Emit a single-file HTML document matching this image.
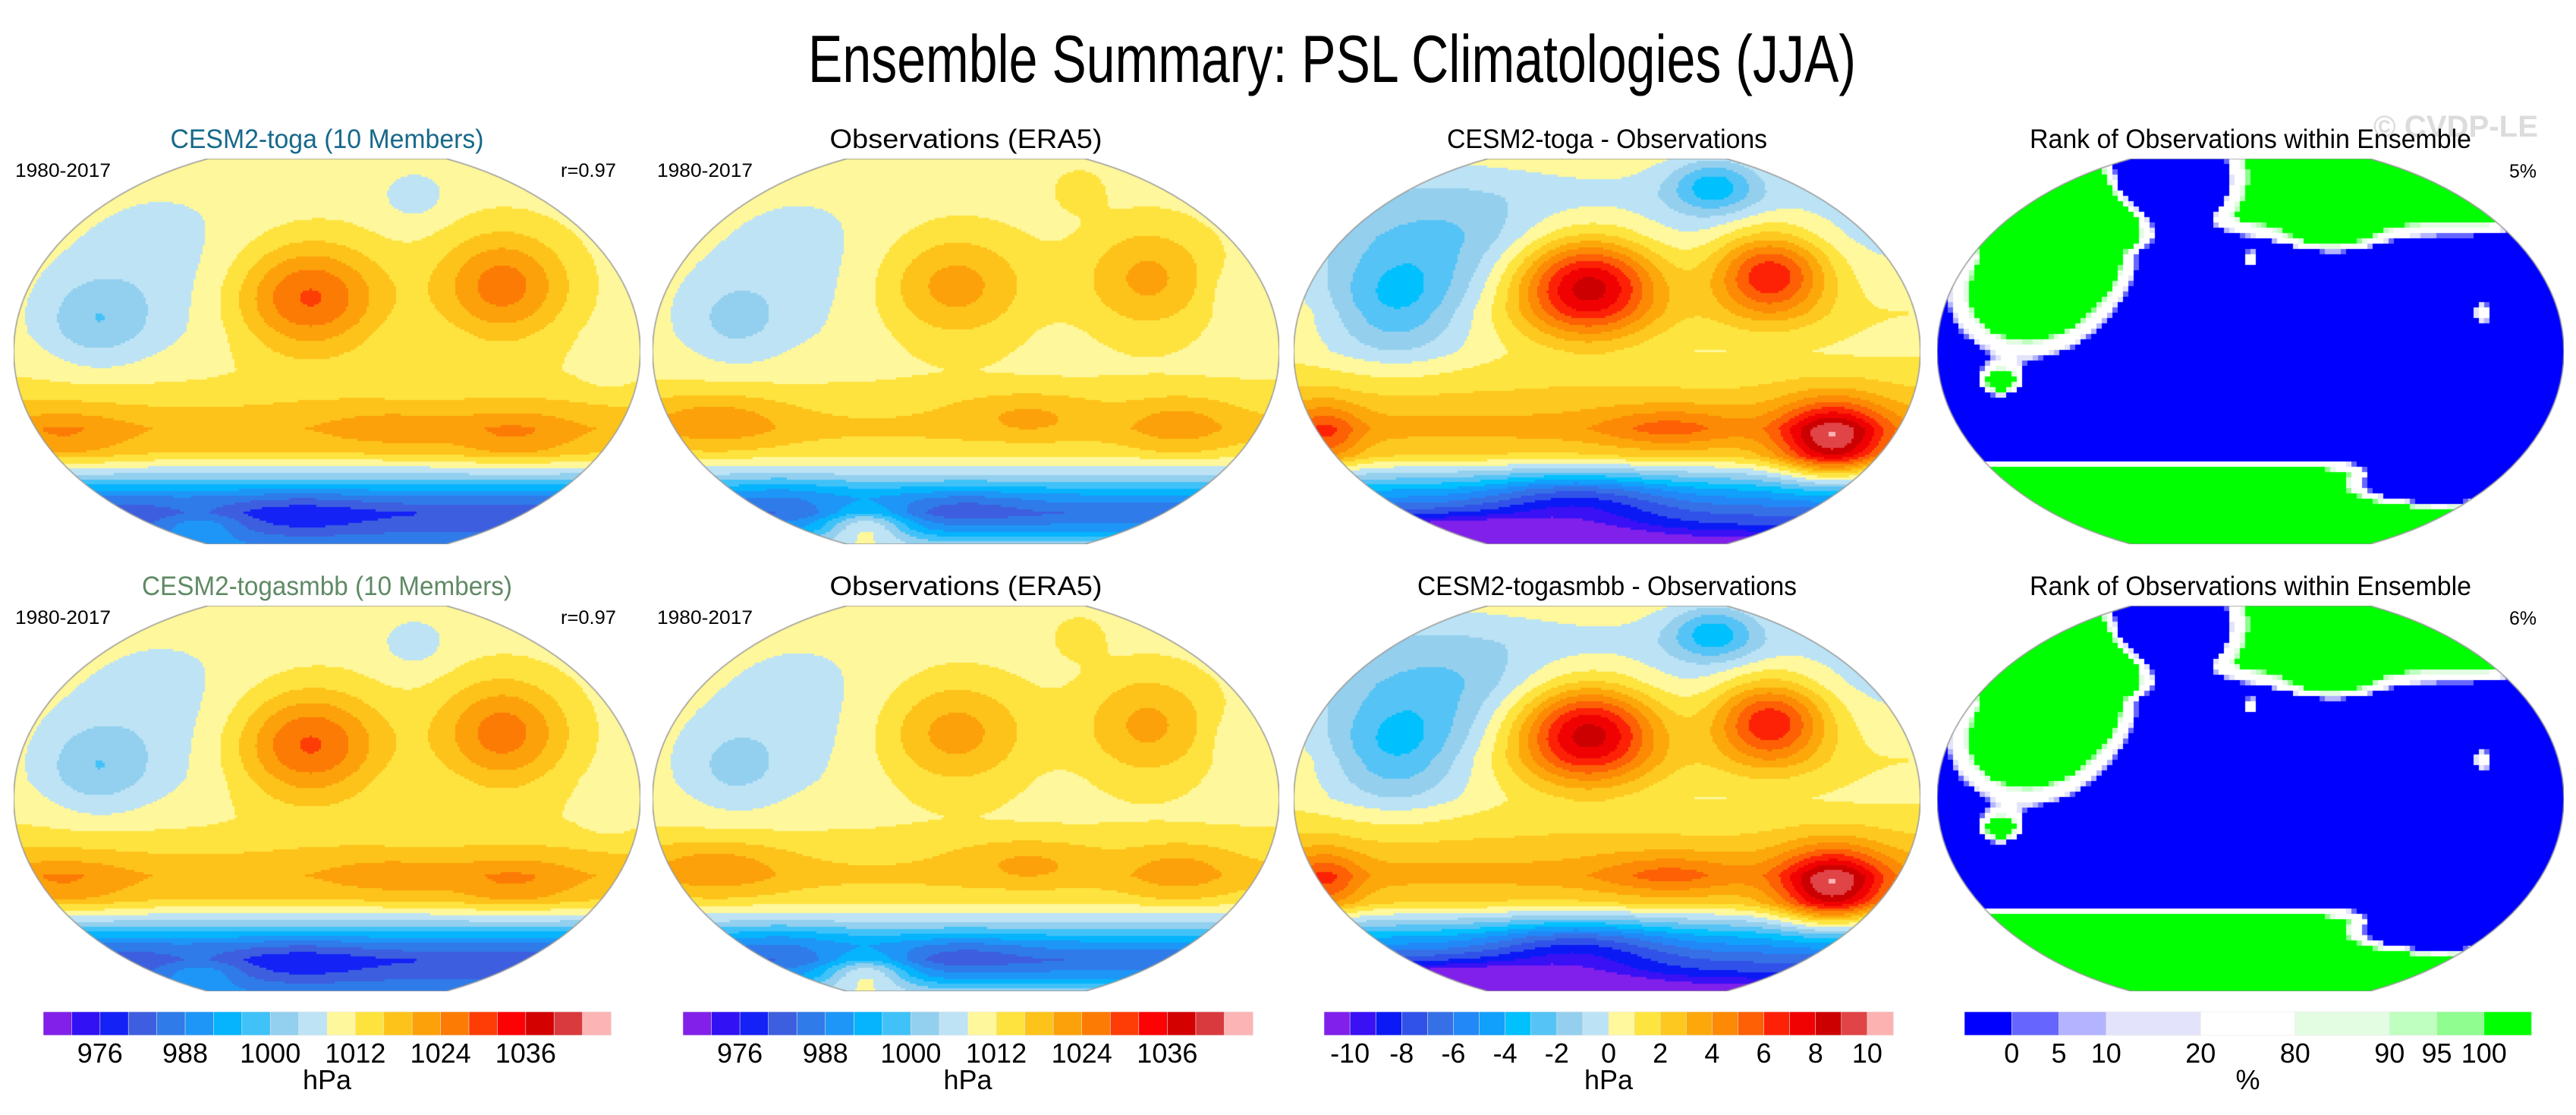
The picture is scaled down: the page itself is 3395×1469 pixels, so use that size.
<!DOCTYPE html>
<html><head><meta charset="utf-8">
<style>
html,body{margin:0;padding:0;background:#fff;}
#wrap{position:relative;width:3395px;height:1469px;overflow:hidden;background:#fff;}
canvas{position:absolute;}
svg{position:absolute;left:0;top:0;}
text{font-family:"Liberation Sans",sans-serif;}
</style></head>
<body>
<div id="wrap">
<svg id="ov" width="3395" height="1469"></svg>
</div>
<script>
// ---- colour scales ----
const pslColors = ["#8220ea","#3311f5","#1522f5","#3d5fdf","#2f7be9","#1e96f7","#05b4fc","#40c2f8","#93cfee","#bde3f5","#fff79b","#fee33f","#fdc31a","#fca10a","#fc7b05","#fd3d05","#fc0205","#d30201","#d93a3e","#fdb4b4"];
const pslBounds = [972,976,980,984,988,992,996,1000,1004,1008,1012,1016,1020,1024,1028,1032,1036,1040,1044];
const pslTicks = ["976","988","1000","1012","1024","1036"];
const pslTickIdx = [2,5,8,11,14,17];
const diffColors = ["#8020ea","#3a10f5","#0b1af5","#3152e8","#3670e6","#2288f8","#11a0fb","#00c0fd","#55c3f5","#95cfee","#bbe3f5","#fff89c","#fee43f","#fdc81f","#fca80a","#fc8a05","#fd6005","#fd2205","#f00203","#cc0000","#e04446","#fdb2b2"];
const diffBounds = [-10,-9,-8,-7,-6,-5,-4,-3,-2,-1,0,1,2,3,4,5,6,7,8,9,10];
const diffTicks = ["-10","-8","-6","-4","-2","0","2","4","6","8","10"];
const diffTickIdx = [1,3,5,7,9,11,13,15,17,19,21];
const rankColors = ["#0000ff","#6666ff","#b3b3ff","#e3e3fb","#ffffff","#e3fde3","#bfffbf","#8ffd8f","#00ff00"];
const rankBounds = [0,5,10,20,80,90,95,100];
const rankTicks = ["0","5","10","20","80","90","95","100"];
const rankWidths = [1,1,1,2,2,2,1,1,1];

// ---- field data (lat profile: v=0 top .. 1 bottom; blobs: u,v,su,sv,amp) ----
const modelProfV = [0,0.15,0.3,0.45,0.55,0.62,0.7,0.76,0.79,0.82,0.85,0.88,0.92,0.96,1.0];
const modelProfP = [1010,1010,1010,1010,1011.5,1015,1019,1016,1010,1003,995,987,980,983,988];
const modelBlobs = [[0.47,0.36,0.085,0.1,19],[0.78,0.33,0.075,0.1,16],[0.13,0.42,0.06,0.08,-8],[0.24,0.3,0.12,0.16,-4],[0.08,0.72,0.08,0.05,6],[0.6,0.7,0.08,0.04,4],[0.8,0.72,0.07,0.05,6],[0.64,0.1,0.04,0.05,-4],[0.3,0.95,0.05,0.03,8],[0.46,0.92,0.08,0.04,-4],[0.95,0.55,0.03,0.04,-3]];
const obsProfP = [1010,1010,1010,1010,1011,1014,1017,1014,1009,1004,997,990,984,990,1002];
const obsBlobs = [[0.48,0.33,0.085,0.1,12],[0.79,0.31,0.075,0.1,11],[0.13,0.42,0.06,0.08,-6],[0.24,0.28,0.12,0.15,-3.5],[0.1,0.68,0.08,0.05,7],[0.6,0.66,0.08,0.04,5],[0.84,0.69,0.06,0.05,6],[0.68,0.08,0.03,0.04,4],[0.34,0.95,0.05,0.035,18],[0.2,0.86,0.06,0.03,-3],[0.5,0.9,0.07,0.03,-4],[0.93,0.35,0.03,0.05,-3]];
const diffProfV = [0,0.1,0.2,0.4,0.5,0.6,0.7,0.77,0.8,0.83,0.86,0.9,0.95,1.0];
const diffProfP = [0.5,-0.5,-0.5,1,0.8,2,3.5,2,0,-2,-4,-6,-8,-11];
const diffBlobs = [[0.47,0.33,0.08,0.09,8],[0.76,0.3,0.065,0.08,6.5],[0.86,0.73,0.06,0.07,7],[0.16,0.38,0.08,0.1,-3.5],[0.24,0.22,0.1,0.12,-1.5],[0.67,0.07,0.05,0.05,-3.5],[0.45,0.88,0.1,0.05,-3],[0.28,0.99,0.15,0.04,-5],[0.05,0.72,0.04,0.06,3],[0.6,0.7,0.08,0.04,2]];
const rankProfV = [0,0.15,0.2,0.25,0.74,0.765,0.79,0.82,1.0];
const rankProfP = [150,150,0,-200,-200,-200,50,200,200];
const rankBlobs = [[0.14,0.36,0.1,0.13,420],[0.22,0.22,0.08,0.1,350],[0.37,0.05,0.055,0.08,-700],[0.1,0.58,0.025,0.03,300],[0.87,0.4,0.02,0.04,250],[0.5,0.26,0.015,0.02,250],[0.8,0.84,0.08,0.035,-600],[0.93,0.8,0.05,0.03,-400],[0.63,0.22,0.06,0.04,200],[0.95,0.25,0.03,0.05,-200]];

const mapXs = [18,860,1705,2553];
const mapW = 826, mapH = 508;
const rowY = [209,798];

function profile(V,P,v){
  if(v<=V[0]) return P[0];
  for(let k=1;k<V.length;k++){ if(v<=V[k]){ const t=(v-V[k-1])/(V[k]-V[k-1]); return P[k-1]+t*(P[k]-P[k-1]); } }
  return P[P.length-1];
}
function field(V,P,B,u,v){
  let s=profile(V,P,v);
  for(const b of B){ const du=(u-b[0])/b[2], dv=(v-b[1])/b[3]; s+=b[4]*Math.exp(-0.5*(du*du+dv*dv)); }
  return s;
}
function colorFor(val,bounds,colors){
  let i=0; while(i<bounds.length && val>=bounds[i]) i++;
  return colors[i];
}
function mapPath(ctx,W,H){
  const a=W/2, b=0.5405*H, x1=W/2-0.19*W, x2=W/2+0.19*W;
  ctx.beginPath();
  ctx.moveTo(x1,0); ctx.lineTo(x2,0);
  ctx.ellipse(W/2,H/2,a,b,0,-Math.asin(H/2/b),Math.asin(H/2/b),false);
  ctx.lineTo(x1,H);
  ctx.ellipse(W/2,H/2,a,b,0,Math.PI-Math.asin(H/2/b),Math.PI+Math.asin(H/2/b),false);
  ctx.closePath();
}
const wrap=document.getElementById('wrap');
function drawMap(x,y,V,P,B,bounds,colors,cell,name){
  const c=document.createElement('canvas');
  
  
  c.width=mapW; c.height=mapH; c.style.left=x+'px'; c.style.top=y+'px';
  wrap.insertBefore(c,document.getElementById('ov'));
  const ctx=c.getContext('2d');
  ctx.save(); mapPath(ctx,mapW,mapH); ctx.clip();
  for(let j=0;j<mapH;j+=cell){ for(let i=0;i<mapW;i+=cell){
    const u=(i+cell/2)/mapW, v=(j+cell/2)/mapH;
    ctx.fillStyle=colorFor(field(V,P,B,u,v),bounds,colors);
    ctx.fillRect(i,j,cell+0.5,cell+0.5);
  }}
  ctx.restore();
  mapPath(ctx,mapW,mapH); ctx.strokeStyle='#999'; ctx.lineWidth=1.5; ctx.stroke();
}
for(let r=0;r<2;r++){
  drawMap(mapXs[0],rowY[r],modelProfV,modelProfP,modelBlobs,pslBounds,pslColors,3,'model-map');
  drawMap(mapXs[1],rowY[r],modelProfV,obsProfP,obsBlobs,pslBounds,pslColors,3,'obs-map');
  drawMap(mapXs[2],rowY[r],diffProfV,diffProfP,diffBlobs,diffBounds,diffColors,3,'diff-map');
  drawMap(mapXs[3],rowY[r],rankProfV,rankProfP,rankBlobs,rankBounds,rankColors,7,'rank-map');
}

// ---- overlay text & colorbars ----
const NS='http://www.w3.org/2000/svg';
const ov=document.getElementById('ov');
function txt(s,x,y,size,opts){
  const t=document.createElementNS(NS,'text');
  t.textContent=s; t.setAttribute('x',x); t.setAttribute('y',y);
  t.setAttribute('font-size',size);
  t.setAttribute('fill',(opts&&opts.fill)||'#000');
  t.setAttribute('text-anchor',(opts&&opts.anchor)||'start');
  if(opts&&opts.len){t.setAttribute('textLength',opts.len);t.setAttribute('lengthAdjust','spacingAndGlyphs');}
  if(opts&&opts.weight) t.setAttribute('font-weight',opts.weight);
  ov.appendChild(t); return t;
}
let t;
t=txt('Ensemble Summary: PSL Climatologies (JJA)',1065,108,88,{len:1381});


t=txt('© CVDP-LE',3128,180,40,{fill:'#dcdcdc',weight:'bold',len:217});



const titles=[["CESM2-toga (10 Members)","Observations (ERA5)","CESM2-toga - Observations","Rank of Observations within Ensemble"],
              ["CESM2-togasmbb (10 Members)","Observations (ERA5)","CESM2-togasmbb - Observations","Rank of Observations within Ensemble"]];
const titleLens=[[413,359,422,582],[488,359,500,582]];
const titleFill=["#17698a","#5f8a64"];
const pctText=["5%","6%"];
for(let r=0;r<2;r++){
  const dy=r*589;
  for(let p=0;p<4;p++){
    t=txt(titles[r][p],mapXs[p]+mapW/2,195+dy,35,{anchor:'middle',len:titleLens[r][p],fill:p===0?titleFill[r]:'#000'});
    
    
  }
  t=txt('1980-2017',20,233+dy,25,{len:126});
  
  
  t=txt('r=0.97',812,233+dy,25,{anchor:'end',len:73});
  
  
  t=txt('1980-2017',866,233+dy,25,{len:126});
  
  
  t=txt(pctText[r],3343,234+dy,25,{anchor:'end',len:36});
  
  
}

function colorbar(x0,x1,colors,widths,ticks,tickIdx,unit,name){
  const g=document.createElementNS(NS,'g');
  
  
  ov.appendChild(g);
  const tot=widths.reduce((a,b)=>a+b,0), unitW=(x1-x0)/tot;
  let x=x0; const edges=[x0];
  colors.forEach((c,i)=>{
    const r=document.createElementNS(NS,'rect');
    r.setAttribute('x',x); r.setAttribute('y',1333); r.setAttribute('width',widths[i]*unitW+0.5); r.setAttribute('height',31);
    r.setAttribute('fill',c); r.setAttribute('stroke','#e6e6e6'); r.setAttribute('stroke-width','0.6');
    
    
    g.appendChild(r); x+=widths[i]*unitW; edges.push(x);
  });
  ticks.forEach((s,i)=>{
    const tt=txt(s,edges[tickIdx[i]],1400,36,{anchor:'middle'});
    
    
  });
  const u=txt(unit,(x0+x1)/2,1435,36,{anchor:'middle'});
  
  
}
colorbar(57,805,pslColors,pslColors.map(()=>1),pslTicks,pslTickIdx,'hPa','model-colorbar');
colorbar(900,1651,pslColors,pslColors.map(()=>1),pslTicks,pslTickIdx,'hPa','obs-colorbar');
colorbar(1745,2495,diffColors,diffColors.map(()=>1),diffTicks,diffTickIdx,'hPa','diff-colorbar');
colorbar(2589,3336,rankColors,rankWidths,rankTicks,[1,2,3,4,5,6,7,8],'%','rank-colorbar');
</script>
</body></html>
